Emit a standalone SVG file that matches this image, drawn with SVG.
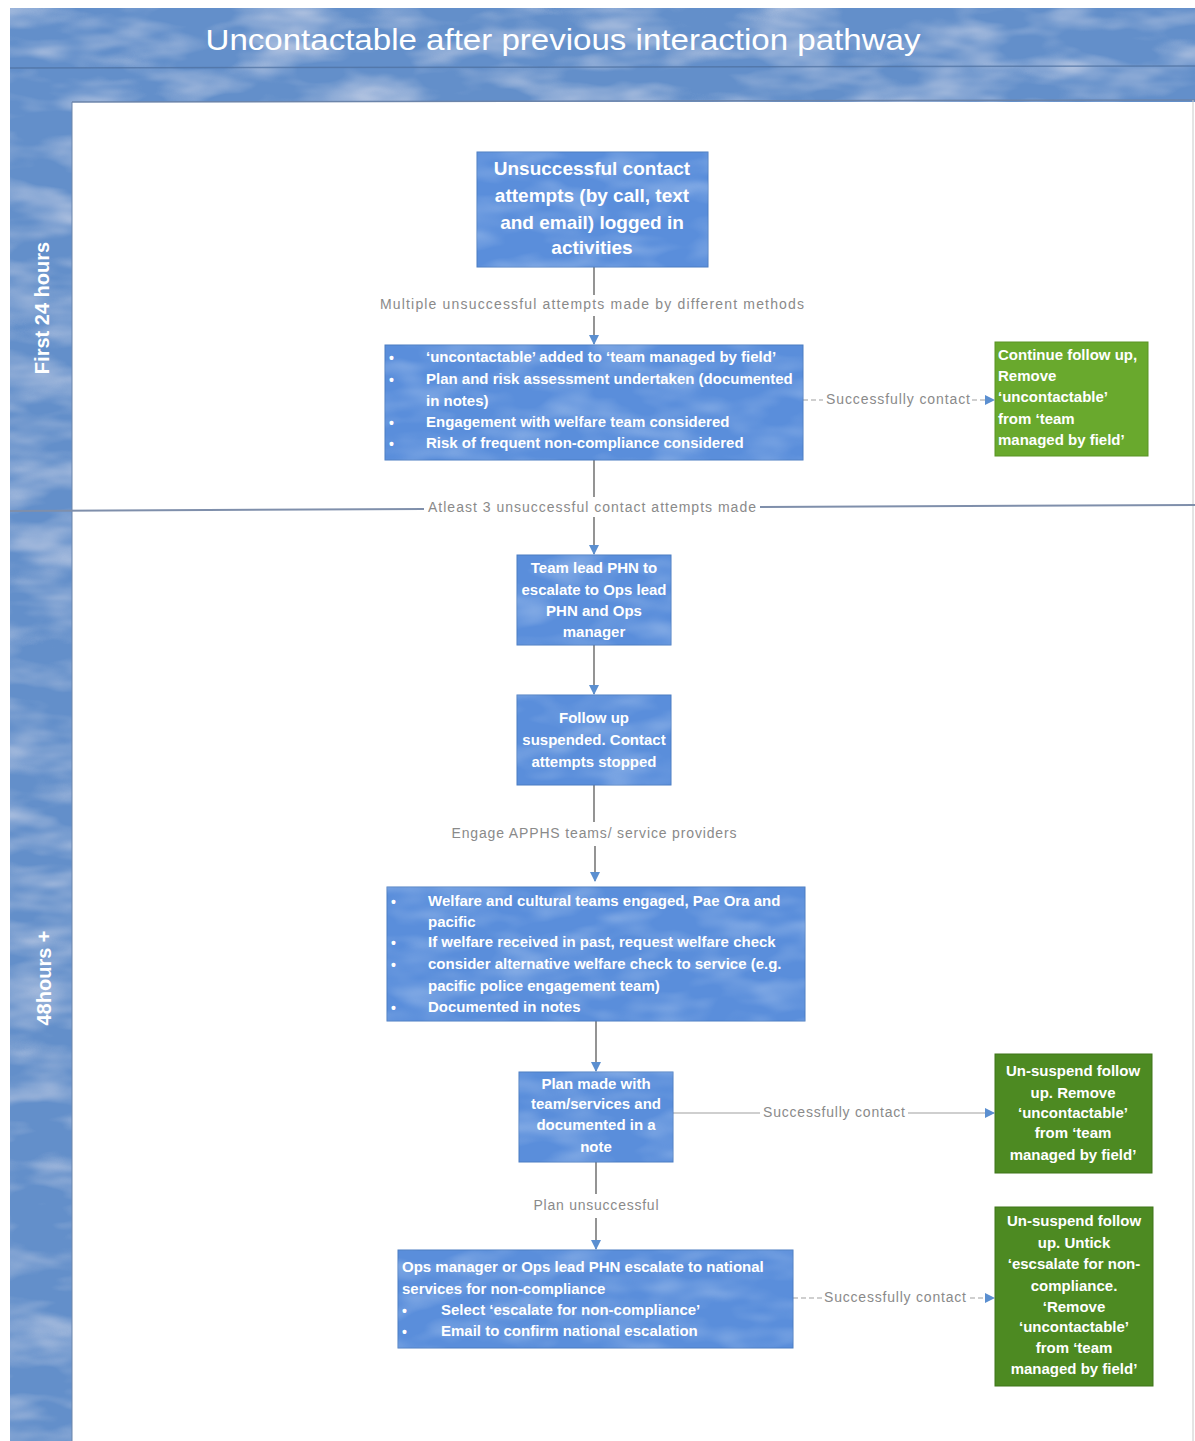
<svg xmlns="http://www.w3.org/2000/svg" width="1195" height="1441" viewBox="0 0 1195 1441">
<defs>
<filter id="cloud" x="0" y="0" width="100%" height="100%" filterUnits="objectBoundingBox">
<feTurbulence type="fractalNoise" baseFrequency="0.012 0.035" numOctaves="3" seed="4" result="n"/>
<feColorMatrix in="n" type="matrix" values="0 0 0 0 0.9  0 0 0 0 0.86  0 0 0 0 0.9  2.0 0 0 0 -0.8"/>
</filter>
<filter id="cloudsoft" x="0" y="0" width="100%" height="100%" filterUnits="objectBoundingBox">
<feTurbulence type="fractalNoise" baseFrequency="0.02 0.05" numOctaves="2" seed="9" result="n"/>
<feColorMatrix in="n" type="matrix" values="0 0 0 0 0.85  0 0 0 0 0.92  0 0 0 0 1  1.6 0 0 0 -0.65"/>
</filter>
<marker id="arr" markerUnits="userSpaceOnUse" markerWidth="10" markerHeight="10" refX="9" refY="5" orient="auto">
<path d="M0,0 L10,5 L0,10 z" fill="#5b8fd0"/>
</marker>
<style>
.lane{fill:#638fca}
.box{fill:#5a8edb;stroke:#4b7cc2;stroke-width:1}
.gA{fill:#69a92d;stroke:#5a9325;stroke-width:1}
.gB{fill:#4d8a22;stroke:#3f7419;stroke-width:1}
.t{font-family:"Liberation Sans",Arial,sans-serif;font-weight:bold;fill:#ffffff}
.title{font-family:"Liberation Sans",Arial,sans-serif;font-weight:normal;fill:#ffffff;font-size:30px;text-anchor:middle}
.c{text-anchor:middle}
.lbl{font-family:"Liberation Sans",Arial,sans-serif;font-size:14px;fill:#8a8a8a;text-anchor:middle}
.v{stroke:#5a5a5a;stroke-width:1.3;fill:none}
.h{stroke:#a0a0a0;stroke-width:1.1;fill:none}
.hd{stroke:#a0a0a0;stroke-width:1.1;fill:none;stroke-dasharray:5 3}
.div{stroke:#7f8fab;stroke-width:2;fill:none}
</style>
</defs>
<rect width="1195" height="1441" fill="#ffffff"/>

<g id="frame">
<rect class="lane" x="10" y="8" width="1185" height="94"/>
<rect x="10" y="8" width="1185" height="94" filter="url(#cloud)" opacity="0.55"/>
<rect class="lane" x="10" y="100" width="62" height="1341"/>
<rect x="10" y="100" width="62" height="1341" filter="url(#cloud)" opacity="0.55"/>
<line x1="10" y1="68" x2="1195" y2="66" stroke="#4d6f9e" stroke-width="1.5" opacity="0.7"/>
<line x1="72" y1="102" x2="1195" y2="100" stroke="#6b84aa" stroke-width="1.5"/>
<line x1="72" y1="102" x2="72" y2="1441" stroke="#6b84aa" stroke-width="1"/>
<line x1="1193" y1="100" x2="1193" y2="1441" stroke="#c8c8c8" stroke-width="1"/>
<text class="title" x="563" y="50" textLength="715" lengthAdjust="spacingAndGlyphs">Uncontactable after previous interaction pathway</text>
</g>

<g id="lane-first24">
<text class="t c" transform="translate(49,308) rotate(-90)" font-size="20">First 24 hours</text>
</g>
<g id="lane-48hours">
<text class="t c" transform="translate(51,978) rotate(-90)" font-size="20">48hours +</text>
</g>

<g id="connectors">
<line class="div" x1="10" y1="511" x2="424" y2="509"/>
<line class="div" x1="760" y1="507" x2="1195" y2="505"/>
<text class="lbl" x="592" y="512" textLength="328" lengthAdjust="spacing">Atleast 3 unsuccessful contact attempts made</text>

<line class="v" x1="594" y1="267" x2="594" y2="295"/>
<text class="lbl" x="592" y="309" textLength="424" lengthAdjust="spacing">Multiple unsuccessful attempts made by different methods</text>
<line class="v" x1="594" y1="316" x2="594" y2="344" marker-end="url(#arr)"/>

<line class="hd" x1="803" y1="400" x2="823" y2="400"/>
<text class="lbl" x="898" y="404" textLength="144" lengthAdjust="spacing">Successfully contact</text>
<line class="hd" x1="972" y1="400" x2="994" y2="400" marker-end="url(#arr)"/>

<line class="v" x1="594" y1="460" x2="594" y2="497"/>
<line class="v" x1="594" y1="517" x2="594" y2="554" marker-end="url(#arr)"/>

<line class="v" x1="594" y1="645" x2="594" y2="694" marker-end="url(#arr)"/>

<line class="v" x1="594" y1="785" x2="594" y2="822"/>
<text class="lbl" x="594" y="838" textLength="285" lengthAdjust="spacing">Engage APPHS teams/ service providers</text>
<line class="v" x1="595" y1="846" x2="595" y2="881" marker-end="url(#arr)"/>

<line class="v" x1="596" y1="1021" x2="596" y2="1071" marker-end="url(#arr)"/>

<line class="h" x1="673" y1="1113" x2="760" y2="1113"/>
<text class="lbl" x="834" y="1117" textLength="142" lengthAdjust="spacing">Successfully contact</text>
<line class="h" x1="908" y1="1113" x2="994" y2="1113" marker-end="url(#arr)"/>

<line class="v" x1="596" y1="1162" x2="596" y2="1194"/>
<text class="lbl" x="596" y="1210" textLength="125" lengthAdjust="spacing">Plan unsuccessful</text>
<line class="v" x1="596" y1="1218" x2="596" y2="1249" marker-end="url(#arr)"/>

<line class="hd" x1="793" y1="1298" x2="822" y2="1298"/>
<text class="lbl" x="895" y="1302" textLength="142" lengthAdjust="spacing">Successfully contact</text>
<line class="hd" x1="970" y1="1298" x2="994" y2="1298" marker-end="url(#arr)"/>
</g>

<g id="n1">
<rect class="box" x="477" y="152" width="231" height="115"/>
<rect x="477" y="152" width="231" height="115" filter="url(#cloudsoft)" opacity="0.35"/>
<text class="t c" font-size="19"><tspan x="592" y="175">Unsuccessful contact</tspan><tspan x="592" y="202">attempts (by call, text</tspan><tspan x="592" y="229">and email) logged in</tspan><tspan x="592" y="254">activities</tspan></text>
</g>

<g id="n2">
<rect class="box" x="385" y="345" width="418" height="115"/>
<rect x="385" y="345" width="418" height="115" filter="url(#cloudsoft)" opacity="0.35"/>
<text class="t" font-size="14"><tspan x="389" y="363">•</tspan><tspan x="389" y="385">•</tspan><tspan x="389" y="428">•</tspan><tspan x="389" y="449">•</tspan></text>
<text class="t" font-size="15"><tspan x="426" y="362">‘uncontactable’ added to ‘team managed by field’</tspan><tspan x="426" y="384">Plan and risk assessment undertaken (documented</tspan><tspan x="426" y="406">in notes)</tspan><tspan x="426" y="427">Engagement with welfare team considered</tspan><tspan x="426" y="448">Risk of frequent non-compliance considered</tspan></text>
</g>

<g id="g1">
<rect class="gA" x="995" y="342" width="153" height="114"/>
<text class="t" font-size="15"><tspan x="998" y="360">Continue follow up,</tspan><tspan x="998" y="381">Remove</tspan><tspan x="998" y="402">‘uncontactable’</tspan><tspan x="998" y="424">from ‘team</tspan><tspan x="998" y="445">managed by field’</tspan></text>
</g>

<g id="n3">
<rect class="box" x="517" y="555" width="154" height="90"/>
<rect x="517" y="555" width="154" height="90" filter="url(#cloudsoft)" opacity="0.35"/>
<text class="t c" font-size="15"><tspan x="594" y="573">Team lead PHN to</tspan><tspan x="594" y="595">escalate to Ops lead</tspan><tspan x="594" y="616">PHN and Ops</tspan><tspan x="594" y="637">manager</tspan></text>
</g>

<g id="n4">
<rect class="box" x="517" y="695" width="154" height="90"/>
<rect x="517" y="695" width="154" height="90" filter="url(#cloudsoft)" opacity="0.35"/>
<text class="t c" font-size="15"><tspan x="594" y="723">Follow up</tspan><tspan x="594" y="745">suspended. Contact</tspan><tspan x="594" y="767">attempts stopped</tspan></text>
</g>

<g id="n5">
<rect class="box" x="387" y="887" width="418" height="134"/>
<rect x="387" y="887" width="418" height="134" filter="url(#cloudsoft)" opacity="0.35"/>
<text class="t" font-size="14"><tspan x="391" y="907">•</tspan><tspan x="391" y="948">•</tspan><tspan x="391" y="970">•</tspan><tspan x="391" y="1013">•</tspan></text>
<text class="t" font-size="15"><tspan x="428" y="906">Welfare and cultural teams engaged, Pae Ora and</tspan><tspan x="428" y="927">pacific</tspan><tspan x="428" y="947">If welfare received in past, request welfare check</tspan><tspan x="428" y="969">consider alternative welfare check to service (e.g.</tspan><tspan x="428" y="991">pacific police engagement team)</tspan><tspan x="428" y="1012">Documented in notes</tspan></text>
</g>

<g id="n6">
<rect class="box" x="519" y="1072" width="154" height="90"/>
<rect x="519" y="1072" width="154" height="90" filter="url(#cloudsoft)" opacity="0.35"/>
<text class="t c" font-size="15"><tspan x="596" y="1089">Plan made with</tspan><tspan x="596" y="1109">team/services and</tspan><tspan x="596" y="1130">documented in a</tspan><tspan x="596" y="1152">note</tspan></text>
</g>

<g id="g2">
<rect class="gB" x="995" y="1054" width="157" height="119"/>
<text class="t c" font-size="15"><tspan x="1073" y="1076">Un-suspend follow</tspan><tspan x="1073" y="1098">up. Remove</tspan><tspan x="1073" y="1118">‘uncontactable’</tspan><tspan x="1073" y="1138">from ‘team</tspan><tspan x="1073" y="1160">managed by field’</tspan></text>
</g>

<g id="n7">
<rect class="box" x="398" y="1250" width="395" height="98"/>
<rect x="398" y="1250" width="395" height="98" filter="url(#cloudsoft)" opacity="0.35"/>
<text class="t" font-size="15"><tspan x="402" y="1272">Ops manager or Ops lead PHN escalate to national</tspan><tspan x="402" y="1294">services for non-compliance</tspan><tspan x="441" y="1315">Select ‘escalate for non-compliance’</tspan><tspan x="441" y="1336">Email to confirm national escalation</tspan></text>
<text class="t" font-size="14"><tspan x="402" y="1316">•</tspan><tspan x="402" y="1337">•</tspan></text>
</g>

<g id="g3">
<rect class="gB" x="995" y="1207" width="158" height="179"/>
<text class="t c" font-size="15"><tspan x="1074" y="1226">Un-suspend follow</tspan><tspan x="1074" y="1248">up.  Untick</tspan><tspan x="1074" y="1269">‘escsalate for non-</tspan><tspan x="1074" y="1291">compliance.</tspan><tspan x="1074" y="1312">‘Remove</tspan><tspan x="1074" y="1332">‘uncontactable’</tspan><tspan x="1074" y="1353">from ‘team</tspan><tspan x="1074" y="1374">managed by field’</tspan></text>
</g>
</svg>
